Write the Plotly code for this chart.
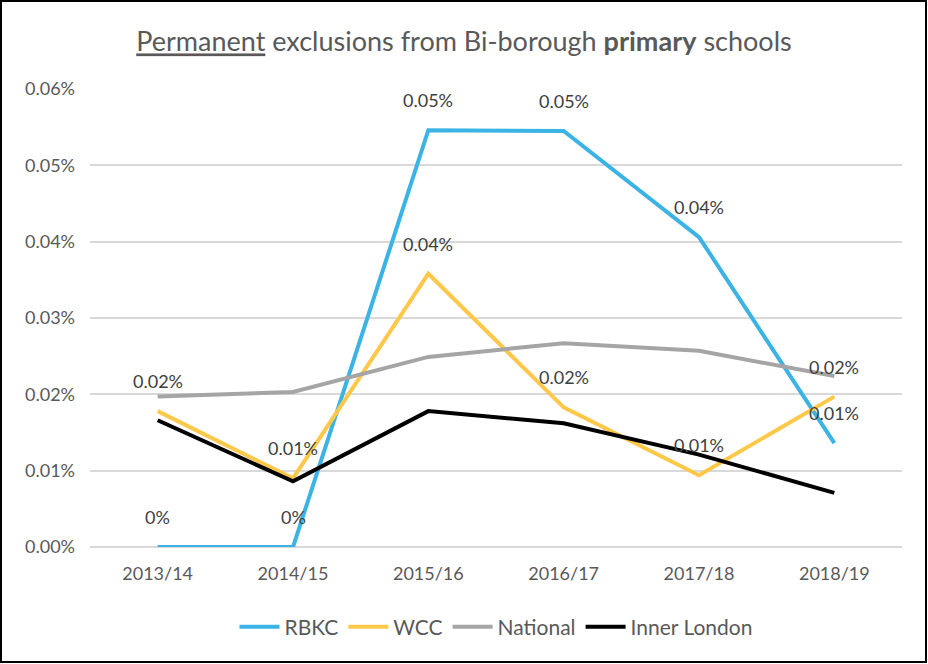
import plotly.graph_objects as go

years = ["2013/14", "2014/15", "2015/16", "2016/17", "2017/18", "2018/19"]
rbkc = [0.0, 0.0, 0.000546, 0.000545, 0.000406, 0.000136]
wcc = [0.000178, 0.000090, 0.000358, 0.000183, 0.000094, 0.000197]
national = [0.000197, 0.000203, 0.000249, 0.000267, 0.000257, 0.000224]
inner_london = [0.000166, 0.000086, 0.000178, 0.000162, 0.000121, 0.000071]
y_ticks = [0, 0.0001, 0.0002, 0.0003, 0.0004, 0.0005, 0.0006]

FONT = "Lato"
TXT = "#595959"

series = [
    ("RBKC", rbkc, "#3BB3E4", True),
    ("WCC", wcc, "#FFC84B", True),
    ("National", national, "#A5A5A5", False),
    ("Inner London", inner_london, "#000000", False),
]

fig = go.Figure()
annotations = []
for name, vals, col, labelled in series:
    fig.add_trace(go.Scatter(x=years, y=vals, name=name, mode="lines",
                             line=dict(color=col, width=4)))
    if labelled:
        for x, v in zip(years, vals):
            annotations.append(dict(x=x, y=v, xref="x", yref="y",
                                    text=f"{round(v * 100, 2):g}%",
                                    showarrow=False, yshift=30,
                                    font=dict(family=FONT, size=18, color="#404040")))

W, H = 928, 664
ml, mr, mt, mb = 90, 26, 89, 117
pw, ph = W - ml - mr, H - mt - mb

fig.update_layout(
    width=W, height=H,
    margin=dict(l=ml, r=mr, t=mt, b=mb),
    paper_bgcolor="white", plot_bgcolor="white",
    font=dict(family=FONT, color=TXT, size=18),
    title=dict(text="<u>Permanent</u> exclusions from Bi-borough <b>primary</b> schools",
               x=0.5, xanchor="center", y=1 - 42 / H, yanchor="middle",
               font=dict(family=FONT, size=27, color=TXT)),
    xaxis=dict(showgrid=False, showline=False, ticks="", range=[-0.5, 5.5],
               ticklabelstandoff=14,
               tickfont=dict(family=FONT, size=18, color=TXT)),
    yaxis=dict(range=[0, 0.0006], tickvals=y_ticks, tickformat=".2%",
               showgrid=True, gridcolor="#D9D9D9", gridwidth=1.5, zeroline=True,
               zerolinecolor="#D9D9D9", zerolinewidth=1.5, showline=False,
               ticks="", ticklen=0, ticklabelstandoff=14,
               tickfont=dict(family=FONT, size=18, color=TXT)),
    legend=dict(orientation="h", x=0.5, xanchor="center", y=-(627 - 547) / ph,
                yanchor="middle", font=dict(family=FONT, size=21, color=TXT),
                itemwidth=40, tracegroupgap=0),
    annotations=annotations,
    shapes=[dict(type="rect", xref="paper", yref="paper",
                 x0=-(ml - 1) / pw, x1=1 + (mr - 2) / pw,
                 y0=-(mb - 2) / ph, y1=1 + (mt - 1) / ph,
                 line=dict(color="#000000", width=2))],
)
fig.write_html("out.html", config={"displayModeBar": False},
               post_script="document.body.style.margin='0';")
